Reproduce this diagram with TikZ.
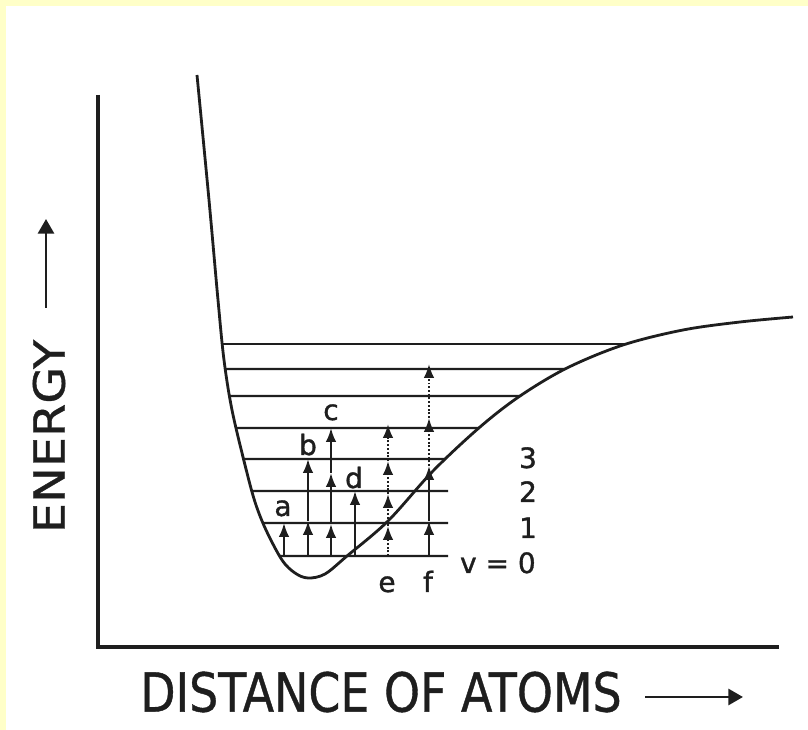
\documentclass[tikz,border=0pt]{standalone}
\usepackage{fontspec}
\setmainfont{DejaVu Sans}
\newfontfamily\plotfont[FakeBold=1.2]{DejaVu Sans}
\newfontfamily\titlefont[FakeBold=0.8]{DejaVu Sans}
\usetikzlibrary{arrows.meta,intersections}
\definecolor{frameyellow}{RGB}{255,255,200}
\definecolor{ink}{RGB}{30,30,30}
\tikzset{
  axisline/.style={draw=ink, line width=3pt, line join=miter},
  wellcurve/.style={draw=ink, line width=2.1pt},
  levelline/.style={draw=ink, line width=1.8pt},
  toplevel/.style={draw=ink, line width=1.2pt},
  trans/.style={draw=ink, line width=1.7pt, -{Latex[length=10.5pt,width=8pt]}},
  transdot/.style={trans, dash pattern=on 1.4pt off 1.4pt},
  bigarrow/.style={draw=ink, line width=2.2pt, -{Triangle[length=11pt,width=12pt]}},
  lbl/.style={text=ink, inner sep=0pt, font=\plotfont\fontsize{21}{21}\selectfont},
}
\begin{document}
\begin{tikzpicture}[x=0.75pt,y=-0.75pt]
\useasboundingbox (0,0) rectangle (808,730);
\fill[white] (0,0) rectangle (808,730);
\fill[frameyellow] (0,0) rectangle (808,6);
\fill[frameyellow] (0,0) rectangle (6,730);

% axes
\coordinate (ytop) at (98,95);
\coordinate (origin) at (98,647);
\coordinate (xend) at (779,647);
\draw[axisline] (ytop) -- (origin) -- (xend);

% potential curve
\draw[wellcurve, name path=well] plot[smooth, tension=0.55] coordinates {
  (197,75) (209,200) (218,300) (224,360) (232,410) (245,465) (255,502)
  (266,530) (282,560) (295,573) (308,578) (325,574) (347,556) (388,521)
  (433,471) (480,427) (520,396) (567,368) (623,345) (683,330) (740,322) (793,317)};

% vibrational levels
\foreach \y [count=\i from 0] in {556,523,491,459,428,396,369,344} {
  \path[name path=h\i] (150,\y) -- (760,\y);
  \path[name intersections={of=well and h\i, by={L\i,R\i}, sort by=h\i}];
  \coordinate (Y\i) at (448,\y);
}
\draw[levelline] (L0) -- (Y0);
\draw[levelline] (L1) -- (Y1);
\draw[levelline] (L2) -- (Y2);
\draw[levelline] (L3) -- (R3);
\draw[levelline] (L4) -- (R4);
\draw[levelline] (L5) -- (R5);
\draw[levelline] (L6) -- (R6);
\draw[toplevel] (L7) -- (R7);

% transitions
% a
\coordinate (a0) at (284,556); \coordinate (a1) at (284,523);
\draw[trans] (a0) -- (a1);
% b
\coordinate (b0) at (308,556); \coordinate (b1) at (308,521); \coordinate (b3) at (308,459);
\draw[trans] (b0) -- (b1);
\draw[trans] (b1) -- (b3);
% c
\coordinate (c0) at (331,556); \coordinate (c1) at (331,524); \coordinate (c2) at (331,473); \coordinate (c4) at (331,428);
\draw[trans] (c0) -- (c1);
\draw[trans] (c1) -- (c2);
\draw[trans] (c2) -- (c4);
% d
\coordinate (d0) at (355,556); \coordinate (d2) at (355,491);
\draw[trans] (d0) -- (d2);
% e (dotted)
\coordinate (e0) at (388,556); \coordinate (e1) at (388,526); \coordinate (e2) at (388,494);
\coordinate (e3) at (388,461); \coordinate (e4) at (388,424);
\draw[transdot] (e0) -- (e1);
\draw[transdot] (e1) -- (e2);
\draw[transdot] (e2) -- (e3);
\draw[transdot] (e3) -- (e4);
% f
\coordinate (f0) at (429,556); \coordinate (f1) at (429,521); \coordinate (f2) at (429,466);
\coordinate (f3) at (429,418); \coordinate (f4) at (429,364);
\draw[trans] (f0) -- (f1);
\draw[trans] (f1) -- (f2);
\draw[transdot] (f2) -- (f3);
\draw[transdot] (f3) -- (f4);

% transition labels
\node[lbl, anchor=base] (la) at (283,516) {a};
\node[lbl, anchor=base] (lb) at (308,455) {b};
\node[lbl, anchor=base] (lc) at (331,420) {c};
\node[lbl, anchor=base] (ld) at (354,488) {d};
\node[lbl, anchor=base] (le) at (387,592) {e};
\node[lbl, anchor=base] (lf) at (428,592) {f};

% level numbers
\node[lbl, anchor=base east] (v0) at (536,573) {v = 0};
\node[lbl, anchor=base] (v1) at (528,538) {1};
\node[lbl, anchor=base] (v2) at (528,502) {2};
\node[lbl, anchor=base] (v3) at (528,468) {3};

% axis titles
\node[text=ink, inner sep=0pt, rotate=90] (energy) at (49,436.5) {\resizebox{145pt}{24pt}{\titlefont ENERGY}};
\coordinate (ea0) at (46,308); \coordinate (ea1) at (46,219);
\draw[bigarrow] (ea0) -- (ea1);

\node[text=ink, inner sep=0pt, anchor=west] (dist) at (140,692) {\resizebox{361pt}{30pt}{\titlefont DISTANCE OF ATOMS}};
\coordinate (da0) at (645,697); \coordinate (da1) at (743,697);
\draw[bigarrow] (da0) -- (da1);
\end{tikzpicture}
\end{document}
